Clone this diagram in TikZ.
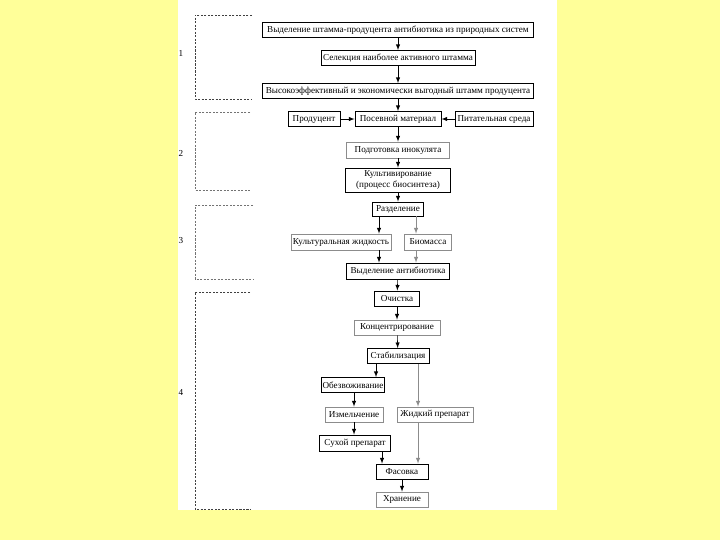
\documentclass[tikz,border=0pt]{standalone}
\usepackage{fontspec}
\setmainfont{Liberation Serif}
\definecolor{slideyellow}{RGB}{255,255,153}
\begin{document}
\begin{tikzpicture}[x=0.025cm,y=-0.025cm,>=latex,
  every node/.style={font=\fontsize{6.5}{7.5}\selectfont},
  wd/.style={minimum width=#1*0.025cm},
  ht/.style={minimum height=#1*0.025cm},
  box/.style={draw,line width=0.6pt,inner sep=1pt,ht=15},
  lbox/.style={box,draw=black!45},
  lline/.style={black!45},
  grp/.style={dash pattern=on 1.5pt off 1pt,line width=0.5pt,black!75}]
\fill[slideyellow] (0,0) rectangle (720,540);
\fill[white] (178,0) rectangle (557,510);
% stages
\node (n1) at (181,53) {1};
\node (n2) at (181,153) {2};
\node (n3) at (181,241) {3};
\node (n4) at (181,392) {4};
\draw[grp] (252,15) -- (195,15) -- (195,99) -- (252,99);
\draw[grp,black!55] (250,112) -- (195,112) -- (195,190) -- (250,190);
\draw[grp,black!55] (253,205) -- (195,205) -- (195,279) -- (253,279);
\draw[grp] (250,292) -- (195,292) -- (195,509) -- (250,509);
% boxes
\node[box,wd=271] (isol) at (398,30) {Выделение штамма-продуцента антибиотика из природных систем};
\node[box,wd=154] (selek) at (398,58) {Селекция наиболее активного штамма};
\node[box,wd=271] (shtamm) at (398,91) {Высокоэффективный и экономически выгодный штамм продуцента};
\node[box,wd=52] (prod) at (314,119) {Продуцент};
\node[box,wd=86] (posev) at (398,119) {Посевной материал};
\node[box,wd=78] (pitsr) at (494,119) {Питательная среда};
\node[lbox,wd=103,ht=16] (inok) at (398,150) {Подготовка инокулята};
\node[box,wd=105,ht=24,align=center] (kult) at (398,180) {Культивирование\\(процесс биосинтеза)};
\node[box,wd=51,ht=14] (razd) at (398,209) {Разделение};
\node[lbox,wd=100,ht=16] (kzh) at (341,242) {Культуральная жидкость};
\node[lbox,wd=47,ht=16] (bio) at (428,242) {Биомасса};
\node[box,wd=103,ht=16] (vydab) at (398,271) {Выделение антибиотика};
\node[box,wd=45] (ochist) at (397,298.5) {Очистка};
\node[lbox,wd=86] (konc) at (397,327.5) {Концентрирование};
\node[box,wd=62] (stab) at (398,356) {Стабилизация};
\node[box,wd=62] (obezv) at (353,385) {Обезвоживание};
\node[lbox,wd=58] (izmel) at (354,414.5) {Измельчение};
\node[lbox,wd=76] (zhidk) at (435,414.5) {Жидкий препарат};
\node[box,wd=71,ht=16] (sukh) at (355,443) {Сухой препарат};
\node[box,wd=52] (fasov) at (402,471.5) {Фасовка};
\node[lbox,wd=52] (hran) at (402,499.5) {Хранение};
% helper columns
\coordinate (cL) at (379,0);
\coordinate (cR) at (416,0);
\coordinate (sL) at (376,0);
\coordinate (sR) at (418,0);
\coordinate (iL) at (354,0);
\coordinate (fL) at (382,0);
% connectors
\draw[->] (isol) -- (selek);
\draw[->] (selek) -- (shtamm);
\draw[->] (shtamm) -- (posev);
\draw[->] (prod) -- (posev);
\draw[->] (pitsr) -- (posev);
\draw[->] (posev) -- (inok);
\draw[->] (inok) -- (kult);
\draw[->] (kult) -- (razd);
\draw[->] (razd.south -| cL) -- (kzh.north -| cL);
\draw[->,lline] (razd.south -| cR) -- (bio.north -| cR);
\draw[->] (kzh.south -| cL) -- (vydab.north -| cL);
\draw[->,lline] (bio.south -| cR) -- (vydab.north -| cR);
\draw[->] (vydab) -- (ochist);
\draw[->] (ochist) -- (konc);
\draw[->] (konc) -- (stab);
\draw[->] (stab.south -| sL) -- (obezv.north -| sL);
\draw[->,lline] (stab.south -| sR) -- (zhidk.north -| sR);
\draw[->] (obezv.south -| iL) -- (izmel.north -| iL);
\draw[->] (izmel.south -| iL) -- (sukh.north -| iL);
\draw[->] (sukh.south -| fL) -- (fasov.north -| fL);
\draw[->,lline] (zhidk.south -| sR) -- (fasov.north -| sR);
\draw[->] (fasov) -- (hran);
\end{tikzpicture}
\end{document}
